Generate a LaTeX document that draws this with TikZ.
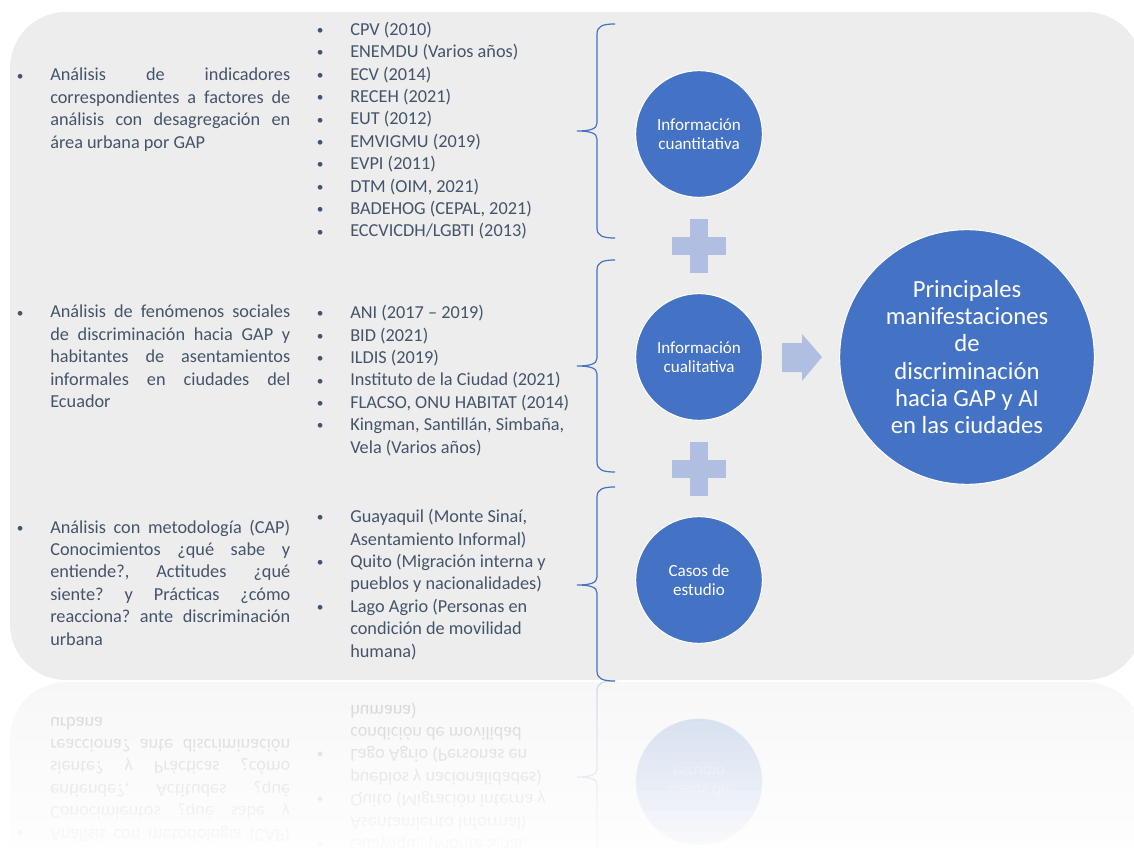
\documentclass[tikz,border=0pt]{standalone}
\usepackage{fontspec}
\setmainfont{Carlito}
\usetikzlibrary{positioning}

\definecolor{azul}{HTML}{4472C4}
\definecolor{celeste}{RGB}{176,190,226}
\definecolor{fondo}{HTML}{EDEDED}
\definecolor{pizarra}{HTML}{44546A}

\tolerance=10000
\hbadness=10000
\frenchspacing

% vineta colgada
\newcommand{\vin}{\leavevmode\llap{\raisebox{0.6pt}{\fontsize{10}{10}\selectfont\textbullet}\hspace{20pt}}}
% llave: arriba, punta, abajo
\newcommand{\llave}[3]{%
  \draw[azul, line width=0.9pt] (615,#1) .. controls (603,#1) and (597,#1+2) .. (597,#1+10)
    -- (597,#2-8) .. controls (597,#2-2) and (590,#2) .. (577,#2)
    .. controls (590,#2) and (597,#2+2) .. (597,#2+8)
    -- (597,#3-10) .. controls (597,#3-2) and (603,#3) .. (615,#3);}
% tercera fila (tambien para el reflejo)
\newcommand{\filacasos}[1]{%
  \node[textoizq] (#1analisisC) at (50,533) {\vin An\'alisis con metodolog\'ia (CAP)\linebreak
    Conocimientos ¿qu\'e sabe y\linebreak entiende?, Actitudes ¿qu\'e\linebreak
    siente? y Pr\'acticas ¿c\'omo\linebreak reacciona? ante discriminaci\'on\linebreak urbana};
  \node[lista] (#1fuentesC) at (350,657) {\vin Guayaquil (Monte Sina\'i,\\Asentamiento Informal)\\
    \vin Quito (Migraci\'on interna y\\pueblos y nacionalidades)\\
    \vin Lago Agrio (Personas en\\condici\'on de movilidad\\humana)};
  \llave{487}{585}{681}
  \node[circulo] (#1casos) at (699,580) {Casos de\\estudio};}

\tikzset{
  textoizq/.style={text=pizarra, text width=180pt, align=justify, inner sep=0pt,
    anchor=base west, font=\fontsize{13.7}{16.8}\selectfont},
  % base = ultima linea
  lista/.style={text=pizarra, align=left, inner sep=0pt, anchor=base west,
    font=\fontsize{13.7}{16.8}\selectfont},
  circulo/.style={circle, fill=azul, draw=white, line width=0.8pt, text=white,
    align=center, inner sep=0pt, minimum size=95pt, font=\fontsize{12.8}{14.3}\selectfont},
}

\begin{document}
\begin{tikzpicture}[x=0.75pt, y=-0.75pt]
  \useasboundingbox (0,0) rectangle (1134,848);
  \fill[fondo, rounded corners=42pt] (10,12) rectangle (1142,680);

  % reflejo
  \begin{scope}[shift={(0,1362)}, yscale=-1, transform shape]
    \fill[fondo, rounded corners=42pt, opacity=0.45] (10,12) rectangle (1142,680);
    \begin{scope}[opacity=0.25]
      \filacasos{r}
    \end{scope}
  \end{scope}
  \foreach \i in {0,...,16} {
    \pgfmathsetmacro\op{0.1+\i*0.05}
    \fill[white, opacity=\op] (0,681+\i*10) rectangle (1134,691+\i*10);
  }

  % primera fila
  \node[textoizq] (analisisA) at (50,81) {\vin An\'alisis de indicadores\linebreak
    correspondientes a factores de\linebreak an\'alisis con desagregaci\'on en\linebreak
    \'area urbana por GAP};
  \node[lista] (fuentesA) at (350,237) {\vin CPV (2010)\\\vin ENEMDU (Varios a\~nos)\\
    \vin ECV (2014)\\\vin RECEH (2021)\\\vin EUT (2012)\\\vin EMVIGMU (2019)\\
    \vin EVPI (2011)\\\vin DTM (OIM, 2021)\\\vin BADEHOG (CEPAL, 2021)\\
    \vin ECCVICDH/LGBTI (2013)};
  \llave{24}{131}{238}
  \node[circulo] (cuanti) at (699,134) {Informaci\'on\\cuantitativa};

  % segunda fila
  \node[textoizq] (analisisB) at (50,318) {\vin An\'alisis de fen\'omenos sociales\linebreak
    de discriminaci\'on hacia GAP y\linebreak habitantes de asentamientos\linebreak
    informales en ciudades del\linebreak Ecuador};
  \node[lista] (fuentesB) at (350,453) {\vin ANI (2017 – 2019)\\\vin BID (2021)\\
    \vin ILDIS (2019)\\\vin Instituto de la Ciudad (2021)\\
    \vin FLACSO, ONU HABITAT (2014)\\\vin Kingman, Santill\'an, Simba\~na,\\
    Vela (Varios a\~nos)};
  \llave{260}{366}{472}
  \node[circulo] (cuali) at (699,357) {Informaci\'on\\cualitativa};

  % tercera fila
  \filacasos{}

  % signos mas y flecha
  \foreach \y in {246,469} {
    \fill[celeste] (672,\y-9) rectangle (726,\y+9);
    \fill[celeste] (690,\y-27) rectangle (708,\y+27);
  }
  \fill[celeste] (782,343) -- (802,343) -- (802,334) -- (822,357) -- (802,381)
    -- (802,372) -- (782,372) -- cycle;

  \node[circulo, minimum size=191pt, font=\fontsize{18.5}{20.3}\selectfont]
    (principal) at (967,357) {Principales\\manifestaciones\\de\\discriminaci\'on\\
    hacia GAP y AI\\en las ciudades};
\end{tikzpicture}
\end{document}
